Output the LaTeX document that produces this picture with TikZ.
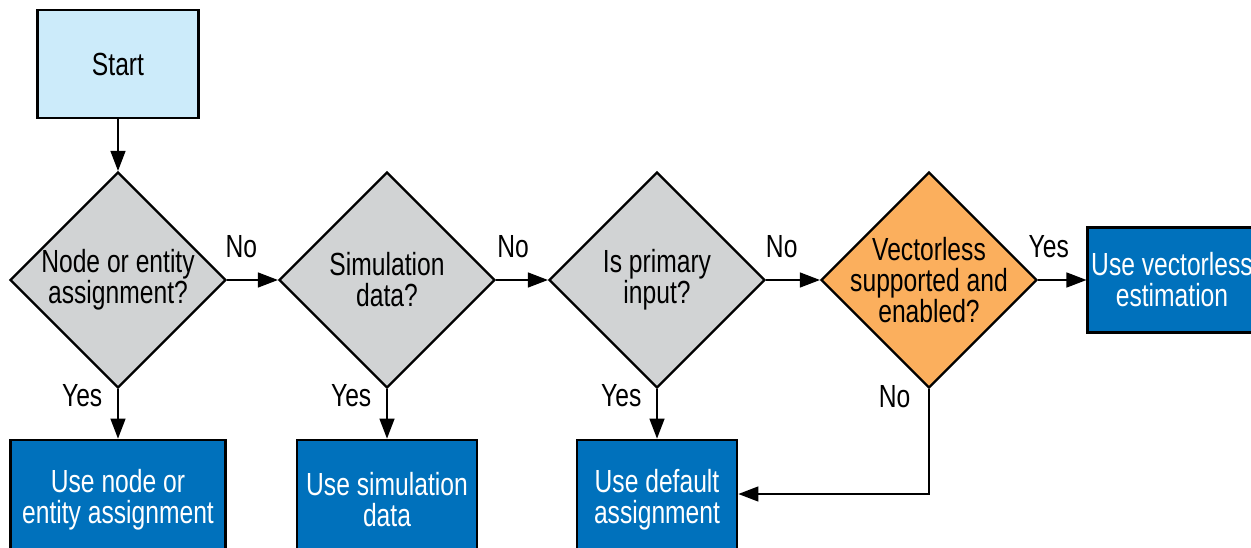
\documentclass[tikz,border=0pt]{standalone}
\usepackage{fontspec}
\setmainfont{Liberation Sans}[FakeStretch=0.77]
\usetikzlibrary{shapes.geometric,arrows.meta}
\definecolor{startblue}{HTML}{CCEBFA}
\definecolor{askgray}{HTML}{D1D3D4}
\definecolor{askorange}{HTML}{FBAF5D}
\definecolor{useblue}{HTML}{0071BC}

\begin{document}
\begin{tikzpicture}[x=1pt, y=-1pt, >={Triangle[length=20pt,width=15pt]},
    txt/.style={font=\fontsize{32}{31}\selectfont, align=center},
    question/.style={diamond, draw, line width=2.2pt, fill=askgray, minimum width=216pt, minimum height=216pt, inner sep=0pt},
    usebox/.style={draw, line width=2.8pt, fill=useblue, text=white, txt},
    flow/.style={->, line width=1.4pt},
    answer/.style={txt, inner sep=0pt}]
            \useasboundingbox (0,0) rectangle (1251,548);
            \node[draw, line width=2.8pt, fill=startblue, minimum width=161pt, minimum height=108pt, txt] (start) at (118,64) {Start};
            \node[question, label={[txt]center:{Node or entity\\assignment?}}] (nodeq) at (118,280) {};
            \node[question, label={[txt]center:{Simulation\\data?}}] (simq) at (387,280) {};
            \node[question, label={[txt]center:{Is primary\\input?}}] (primq) at (657,280) {};
            \node[question, fill=askorange, label={[txt]center:{Vectorless\\supported and\\enabled?}}] (vecq) at (929,280) {};
            \node[usebox, minimum width=215pt, minimum height=120pt] (usenode) at (118,500) {Use node or\\entity assignment};
            \node[usebox, minimum width=180pt, minimum height=120pt] (usesim) at (387,500) {Use simulation\\data};
            \node[usebox, minimum width=160pt, minimum height=120pt] (usedef) at (657,500) {Use default\\assignment};
            \node[usebox, minimum width=168pt, minimum height=105pt] (usevec) at (1172,280) {Use vectorless\\estimation};
            \coordinate (bend) at (929,494);
            \draw[flow] (start) -- (nodeq);
            \draw[flow] (nodeq) -- node[answer, pos=.28, anchor=south, yshift=21pt] {No} (simq);
            \draw[flow] (simq) -- node[answer, pos=.33, anchor=south, yshift=21pt] {No} (primq);
            \draw[flow] (primq) -- node[answer, pos=.29, anchor=south, yshift=21pt] {No} (vecq);
            \draw[flow] (vecq) -- node[answer, pos=.22, anchor=south, yshift=21pt] {Yes} (usevec);
            \draw[flow] (nodeq) -- node[answer, pos=.13, anchor=east, xshift=-15pt] {Yes} (usenode);
            \draw[flow] (simq) -- node[answer, pos=.13, anchor=east, xshift=-15pt] {Yes} (usesim);
            \draw[flow] (primq) -- node[answer, pos=.13, anchor=east, xshift=-15pt] {Yes} (usedef);
            \draw[flow] (vecq) -- node[answer, pos=.07, anchor=east, xshift=-18pt] {No} (bend) -- (usedef.east |- bend);
        \end{tikzpicture}
\end{document}
